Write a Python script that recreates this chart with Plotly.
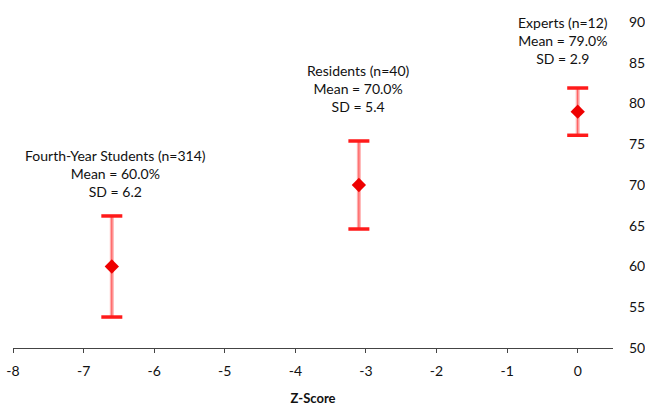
import plotly.graph_objects as go

groups = ["Fourth-Year Students (n=314)", "Residents (n=40)", "Experts (n=12)"]
z_scores = [-6.6, -3.1, 0.0]
means = [60.0, 70.0, 79.0]
sds = [6.2, 5.4, 2.9]

x_tick_vals = [-8, -7, -6, -5, -4, -3, -2, -1, 0]
x_tick_text = ["-8", "-7", "-6", "-5", "-4", "-3", "-2", "-1", "0"]

FONT = "Lato"
fig = go.Figure()

# soft outer line of the error bar
fig.add_trace(go.Scatter(
    x=z_scores, y=means, mode="markers",
    marker=dict(size=1, color="rgba(0,0,0,0)"),
    error_y=dict(type="data", array=sds, visible=True, thickness=4,
                 width=0, color="rgba(255,60,60,0.4)"),
    showlegend=False, hoverinfo="skip"))
# thin inner line
fig.add_trace(go.Scatter(
    x=z_scores, y=means, mode="markers",
    marker=dict(size=1, color="rgba(0,0,0,0)"),
    error_y=dict(type="data", array=sds, visible=True, thickness=1,
                 width=0, color="rgba(255,0,0,0.55)"),
    showlegend=False, hoverinfo="skip"))
# caps
cap_x = z_scores + z_scores
cap_y = [m + s for m, s in zip(means, sds)] + [m - s for m, s in zip(means, sds)]
fig.add_trace(go.Scatter(
    x=cap_x, y=cap_y, mode="markers",
    marker=dict(symbol="line-ew", size=15, line=dict(width=3.5, color="#ff1a1a")),
    showlegend=False, hoverinfo="skip"))
# mean markers
fig.add_trace(go.Scatter(
    x=z_scores, y=means, mode="markers",
    marker=dict(symbol="diamond", size=11, color="#ee0000"),
    showlegend=False))

shifts = [(4, 14), (0, 24), (-15, 19)]
for g, zx, m, s, (dx, dy) in zip(groups, z_scores, means, sds, shifts):
    fig.add_annotation(
        x=zx, y=m + s, xref="x", yref="y",
        text=f"{g}<br>Mean = {m:.1f}%<br>SD = {s:.1f}",
        showarrow=False, xanchor="center", yanchor="bottom",
        xshift=dx, yshift=dy, align="center",
        font=dict(family=FONT, size=14, color="#111"))

fig.update_layout(
    width=645, height=406,
    margin=dict(l=13, r=32, t=22, b=58),
    paper_bgcolor="white", plot_bgcolor="white",
    font=dict(family=FONT, size=14, color="#111"),
    showlegend=False,
    xaxis=dict(range=[-8, 0.5], tickvals=x_tick_vals, ticktext=x_tick_text,
               showgrid=False, zeroline=False, automargin=False,
               ticklabeloverflow="allow",
               showline=True, linecolor="#444", linewidth=1,
               ticks="outside", ticklen=4, tickcolor="#444", ticklabelstandoff=6,
               title=dict(text="<b>Z-Score</b>", standoff=26,
                          font=dict(family=FONT, size=13))),
    yaxis=dict(range=[50, 90], dtick=5, side="right", showgrid=False, automargin=False,
               zeroline=False, showline=False, ticks="", ticklabelstandoff=15),
)

# remove the browser's default page margin so the figure fills the window
fig.write_html("out.html",
               config={"displayModeBar": False},
               post_script="document.body.style.margin='0';document.body.style.overflow='hidden';")
